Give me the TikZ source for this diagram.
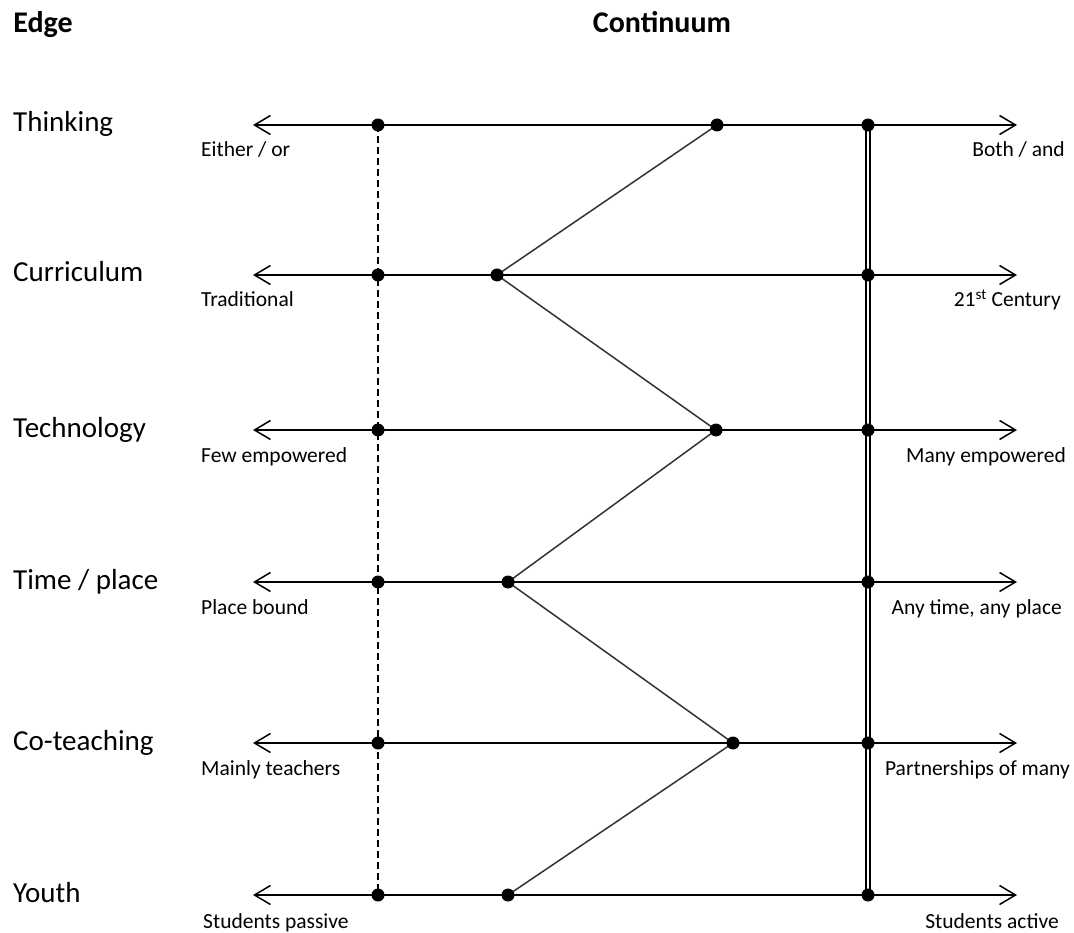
\documentclass[tikz,border=0pt]{standalone}
\usepackage{fontspec}
\setmainfont{Carlito}
\usetikzlibrary{arrows.meta}
\begin{document}
\begin{tikzpicture}[x=1pt,y=-1pt,
  axis/.style={line width=1.7pt,{Straight Barb[length=16pt,width=19pt,line width=1.5pt]}-{Straight Barb[length=16pt,width=19pt,line width=1.5pt]}},
  dot/.style={circle,fill=black,inner sep=0pt,minimum size=13pt},
  zig/.style={line width=1.5pt,black!80},
  edgelbl/.style={anchor=base west,font=\fontsize{29}{33}\selectfont,inner sep=0pt},
  head/.style={anchor=base,font=\fontsize{30}{34}\selectfont\bfseries,inner sep=0pt},
  lft/.style={anchor=base west,font=\fontsize{21.5}{24}\selectfont,inner sep=0pt},
  rgt/.style={anchor=base east,font=\fontsize{21.5}{24}\selectfont,inner sep=0pt}]
\useasboundingbox (0,0) rectangle (1074,933);
% headers
\node[head] (hedge) at (43,33) {Edge};
\node[head] (hcont) at (662,33) {Continuum};
% rows
\foreach \i/\y/\z in {1/125/717,2/275/497,3/430/716,4/582/508,5/743/733,6/895/508}{
  \coordinate (L\i) at (253,\y);
  \coordinate (R\i) at (1017,\y);
  \coordinate (D\i) at (378,\y);
  \coordinate (E\i) at (868,\y);
  \coordinate (Z\i) at (\z,\y);
}
% axes
\foreach \i in {1,...,6}{ \draw[axis] (L\i) -- (R\i); }
% dashed vertical
\draw[line width=1.4pt,dash pattern=on 7pt off 4pt] (D1) -- (D6);
% double vertical
\draw[line width=1.4pt,double,double distance=2.6pt] (E1) -- (E6);
% zigzag
\draw[zig] (Z1) -- (Z2) -- (Z3) -- (Z4) -- (Z5) -- (Z6);
% dots
\foreach \i in {1,...,6}{
  \node[dot] (d\i) at (D\i) {};
  \node[dot] (e\i) at (E\i) {};
  \node[dot] (z\i) at (Z\i) {};
}
% edge labels
\node[edgelbl] (t1) at (13,132) {Thinking};
\node[edgelbl] (t2) at (13,282) {Curriculum};
\node[edgelbl] (t3) at (13,437) {Technology};
\node[edgelbl] (t4) at (13,589) {Time / place};
\node[edgelbl] (t5) at (13,750) {Co-teaching};
\node[edgelbl] (t6) at (13,902) {Youth};
% left labels
\node[lft] (a1) at (201,157) {Either / or};
\node[lft] (a2) at (201,307) {Traditional};
\node[lft] (a3) at (201,462) {Few empowered};
\node[lft] (a4) at (201,614) {Place bound};
\node[lft] (a5) at (201,775) {Mainly teachers};
\node[lft] (a6) at (203,928) {Students passive};
% right labels
\node[rgt] (b1) at (1065,157) {Both / and};
\node[rgt] (b2) at (1061,307) {21\textsuperscript{st} Century};
\node[rgt] (b3) at (1066,462) {Many empowered};
\node[rgt] (b4) at (1062,614) {Any time, any place};
\node[rgt] (b5) at (1070,775) {Partnerships of many};
\node[rgt] (b6) at (1059,928) {Students active};
\end{tikzpicture}
\end{document}
